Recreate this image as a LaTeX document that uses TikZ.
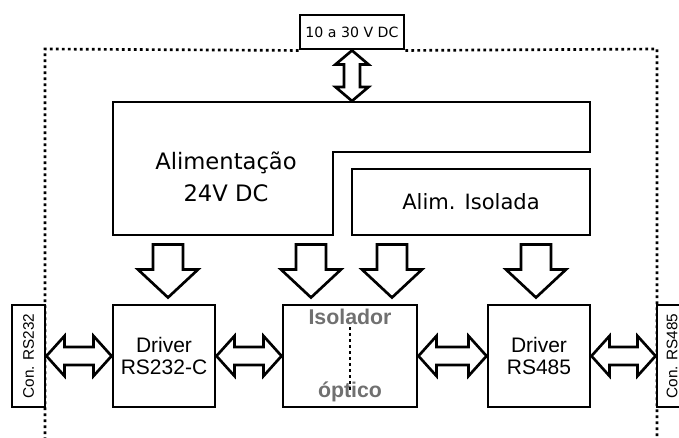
\documentclass[tikz,border=0pt]{standalone}
\usepackage{fontspec}
\setmainfont{Liberation Sans}
\newfontfamily\tahoma{DejaVu Sans}
\usepackage{tikz}
\usetikzlibrary{calc}
\definecolor{labelgray}{RGB}{112,112,112}

\tikzset{
  box/.style={draw, line width=2.2pt, fill=white, inner sep=0pt, align=center},
  frame/.style={line width=2pt, dash pattern=on 2pt off 2.5pt},
  arrow dims/.code args={#1/#2/#3}{\def\shaftw{#1}\def\headw{#2}\def\headl{#3}},
  along/.style={shift={(\p1)}, rotate=\n1},
  fat/.style={draw, line width=2pt, fill=white, line join=miter},
  fatsingle/.style={fat, arrow dims=#1,
    to path={let \p1=(\tikztostart), \p2=(\tikztotarget),
      \n1={atan2(\y2-\y1,\x2-\x1)}, \n2={veclen(\x2-\x1,\y2-\y1)} in
      ([along]0pt,\shaftw) -- ([along]\n2-\headl,\shaftw) -- ([along]\n2-\headl,\headw)
      -- ([along]\n2,0pt) -- ([along]\n2-\headl,-\headw) -- ([along]\n2-\headl,-\shaftw)
      -- ([along]0pt,-\shaftw) -- cycle}},
  fatdouble/.style={fat, arrow dims=#1,
    to path={let \p1=(\tikztostart), \p2=(\tikztotarget),
      \n1={atan2(\y2-\y1,\x2-\x1)}, \n2={veclen(\x2-\x1,\y2-\y1)} in
      ([along]0pt,0pt) -- ([along]\headl,\headw) -- ([along]\headl,\shaftw)
      -- ([along]\n2-\headl,\shaftw) -- ([along]\n2-\headl,\headw) -- ([along]\n2,0pt)
      -- ([along]\n2-\headl,-\headw) -- ([along]\n2-\headl,-\shaftw)
      -- ([along]\headl,-\shaftw) -- ([along]\headl,-\headw) -- cycle}},
}

\begin{document}
\begin{tikzpicture}[x=0.75pt, y=-0.75pt]
        \useasboundingbox (0,0) rectangle (679,438);

        % Supply input
        \node[box, minimum width=78pt, minimum height=25.5pt, font=\tahoma\fontsize{10.6}{12}\selectfont] (vin) at (352,32) {10 a 30 V DC};

        % Dotted enclosure
        \draw[frame] (vin.south west) -- (45,49) -- (45,438);
        \draw[frame] (vin.south east) -- (657,49) -- (657,438);

        % Power block (L shaped) and isolated supply
        \draw[line width=2.2pt, line join=miter] (113,102) -- (590,102) -- (590,152) -- (333,152) -- (333,235) -- (113,235) -- cycle;
        \node[font=\tahoma\fontsize{17}{24}\selectfont, align=center] (alim) at (226,177) {Alimentação\\24V DC};
        \node[box, minimum width=178.5pt, minimum height=49.5pt, font=\tahoma\fontsize{15.8}{18}\selectfont] (iso) at (471,202) {Alim. Isolada};
        \coordinate (alimtop) at (352,101);

        % Lower row
        \node[box, rotate=90, minimum width=76.5pt, minimum height=24.75pt, font=\fontsize{11.5}{13}\selectfont] (con232) at (28.5,356) {Con. RS232};
        \node[box, minimum size=76.5pt, font=\fontsize{15.75}{17}\selectfont] (drv232) at (164,356) {Driver\\RS232-C};
        \node[box, minimum width=100.5pt, minimum height=76.5pt] (isol) at (350,356) {};
        \node[box, minimum size=76.5pt, font=\fontsize{15.75}{17}\selectfont] (drv485) at (539,356) {Driver\\RS485};
        \node[box, rotate=90, minimum width=76.5pt, minimum height=22.5pt, font=\fontsize{11.5}{13}\selectfont] (con485) at (672,356) {Con. RS485};

        % Optocoupler labels
        \node[font=\bfseries\fontsize{16}{17}\selectfont, text=labelgray, inner sep=0pt, anchor=base] (isoltop) at (350,325) {Isolador};
        \node[font=\bfseries\fontsize{16}{17}\selectfont, text=labelgray, inner sep=0pt, anchor=base] (isolbot) at (350,398) {óptico};
        \draw[frame] ([yshift=-1.5pt]isoltop.south) -- ([yshift=-6pt]isolbot.north);

        % Supply arrow
        \draw[fatdouble=6pt/12.4pt/10.5pt] (vin.south) to (alimtop);

        % Power arrows
        \draw[fatsingle=11.25pt/22.5pt/21pt] ([xshift=3pt,yshift=-6pt]drv232.north |- iso.south) to ([xshift=3pt,yshift=4.5pt]drv232.north);
        \draw[fatsingle=11.25pt/22.5pt/21pt] ([xshift=-29.25pt,yshift=-6pt]isol.north |- iso.south) to ([xshift=-29.25pt,yshift=4.5pt]isol.north);
        \draw[fatsingle=11.25pt/22.5pt/21pt] ([xshift=31.5pt,yshift=-6pt]isol.north |- iso.south) to ([xshift=31.5pt,yshift=4.5pt]isol.north);
        \draw[fatsingle=11.25pt/22.5pt/21pt] ([xshift=-2.25pt,yshift=-6pt]drv485.north |- iso.south) to ([xshift=-2.25pt,yshift=4.5pt]drv485.north);

        % Data links
        \draw[fatdouble=6.75pt/15pt/13.5pt] (con232.south) to (drv232.west);
        \draw[fatdouble=6.75pt/15pt/13.5pt] (drv232.east) to (isol.west);
        \draw[fatdouble=6.75pt/15pt/13.5pt] (isol.east) to (drv485.west);
        \draw[fatdouble=6.75pt/15pt/13.5pt] (drv485.east) to (con485.north);
\end{tikzpicture}
\end{document}
